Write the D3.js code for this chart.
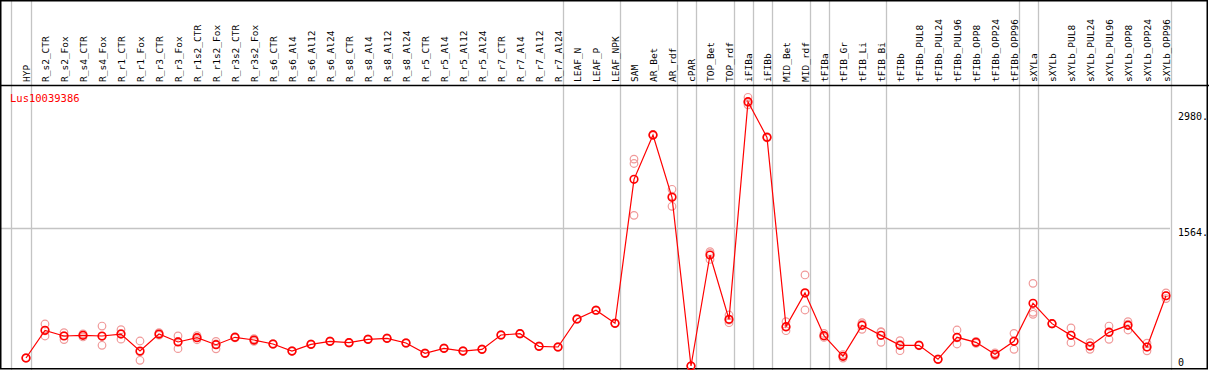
<!DOCTYPE html>
<html>
<head>
<meta charset="utf-8">
<script src="https://cdn.jsdelivr.net/npm/d3@7"></script>
<style>
  body { margin: 0; background: #fff; }
  svg { display: block; font-family: 'DejaVu Sans Mono', monospace; }
</style>
</head>
<body>
<script>
const geneName = 'Lus10039386';

const samples = [
  'HYP', 'R_s2_CTR', 'R_s2_Fox', 'R_s4_CTR', 'R_s4_Fox', 'R_r1_CTR', 'R_r1_Fox',
  'R_r3_CTR', 'R_r3_Fox', 'R_r1s2_CTR', 'R_r1s2_Fox', 'R_r3s2_CTR', 'R_r3s2_Fox',
  'R_s6_CTR', 'R_s6_Al4', 'R_s6_Al12', 'R_s6_Al24', 'R_s8_CTR', 'R_s8_Al4',
  'R_s8_Al12', 'R_s8_Al24', 'R_r5_CTR', 'R_r5_Al4', 'R_r5_Al12', 'R_r5_Al24',
  'R_r7_CTR', 'R_r7_Al4', 'R_r7_Al12', 'R_r7_Al24', 'LEAF_N', 'LEAF_P', 'LEAF_NPK',
  'SAM', 'AR_Bet', 'AR_rdf', 'cPAR', 'TOP_Bet', 'TOP_rdf', 'iFIBa', 'iFIBb',
  'MID_Bet', 'MID_rdf', 'tFIBa', 'tFIB_Gr', 'tFIB_Li', 'tFIB_Bi', 'tFIBb',
  'tFIBb_PUL8', 'tFIBb_PUL24', 'tFIBb_PUL96', 'tFIBb_OPP8', 'tFIBb_OPP24', 'tFIBb_OPP96',
  'sXYLa', 'sXYLb', 'sXYLb_PUL8', 'sXYLb_PUL24', 'sXYLb_PUL96', 'sXYLb_OPP8',
  'sXYLb_OPP24', 'sXYLb_OPP96',
];

const means = [
  91, 405, 341, 348, 341, 363, 170, 363, 273, 322, 242, 326, 295,
  250, 170, 246, 280, 265, 303, 314, 261, 144, 201, 170, 189,
  352, 367, 223, 216, 534, 633, 485,
  2120, 2624, 1916, 0, 1261, 530, 3002, 2597,
  447, 831, 344, 110, 462, 348, 235,
  235, 76, 326, 269, 133, 280,
  712, 481, 348, 227, 382, 462, 216, 798,
];

// three replicates per sample
const replicates = [
  [88, 91, 94], [477, 400, 341], [378, 345, 300], [365, 350, 330], [454, 335, 235],
  [412, 370, 305], [284, 160, 65], [378, 360, 350], [341, 280, 197], [345, 325, 298],
  [280, 250, 195], [332, 326, 320], [310, 295, 280],
  [254, 250, 246], [174, 170, 166], [250, 246, 242], [284, 280, 276], [269, 265, 261],
  [307, 303, 299], [318, 314, 310], [265, 261, 257], [148, 144, 140], [205, 201, 197],
  [174, 170, 166], [193, 189, 185], [356, 352, 348], [371, 367, 363], [227, 223, 219],
  [220, 216, 212], [538, 534, 530], [637, 633, 629], [489, 485, 481],
  [2350, 2300, 1711], [2630, 2624, 2618], [2007, 1930, 1814], [0, 0, 0],
  [1298, 1280, 1210], [579, 520, 492], [3052, 2990, 2966], [2605, 2597, 2590],
  [503, 440, 401], [1034, 825, 636], [370, 340, 325], [130, 110, 90],
  [492, 475, 417], [390, 385, 269], [288, 245, 174],
  [240, 235, 230], [80, 76, 72], [409, 320, 250], [280, 269, 258], [150, 130, 118],
  [371, 280, 190],
  [939, 610, 587], [485, 481, 477], [432, 350, 265], [265, 227, 190], [454, 390, 303],
  [503, 475, 409], [260, 216, 172], [830, 798, 766],
];

// vertical separators drawn after these samples
const groupEnds = [
  'HYP', 'R_r7_Al24', 'LEAF_NPK', 'AR_rdf', 'cPAR', 'TOP_rdf', 'iFIBa', 'iFIBb',
  'MID_rdf', 'tFIBa', 'tFIB_Bi', 'tFIBb_OPP96', 'sXYLa', 'sXYLb_OPP96',
];

const yTicks = [0, 1564, 2980];
const yTickLabels = ['0', '1564.', '2980.'];

const w = 1209;
const h = 370;
const headerH = 85;
const plotRight = 1170;

const svg = d3.select('body').append('svg').attr('width', w).attr('height', h);

const x = d3.scalePoint().domain(samples).range([26, 1166]);
const step = x.step();
const y = d3.scaleLinear().domain([0, 1564]).range([366, 228.3]);

// grid
const sepX = [x(samples[0]) - step * 0.8, ...groupEnds.map((s) => x(s) + 4.7)];
svg.append('g')
  .selectAll('line')
  .data(sepX)
  .join('line')
  .attr('x1', (d) => Math.round(d) + 0.5)
  .attr('x2', (d) => Math.round(d) + 0.5)
  .attr('y1', 0)
  .attr('y2', h)
  .attr('stroke', '#c4c4c4')
  .attr('stroke-width', 1.3);

svg.append('line')
  .attr('x1', 0)
  .attr('x2', plotRight)
  .attr('y1', Math.round(y(1564)) + 0.5)
  .attr('y2', Math.round(y(1564)) + 0.5)
  .attr('stroke', '#c4c4c4')
  .attr('stroke-width', 1.3);

// header line and frame
svg.append('line')
  .attr('x1', 0).attr('x2', w)
  .attr('y1', headerH + 0.5).attr('y2', headerH + 0.5)
  .attr('stroke', '#000').attr('stroke-width', 1.3);

svg.append('rect')
  .attr('x', 0.75).attr('y', 0.75)
  .attr('width', w - 2.5).attr('height', h - 2)
  .attr('fill', 'none')
  .attr('stroke', '#000')
  .attr('stroke-width', 1.5);

// sample labels
svg.append('g')
  .selectAll('text')
  .data(samples)
  .join('text')
  .attr('transform', (d) => `translate(${x(d) + 4},82) rotate(-90)`)
  .attr('font-size', '9.5px')
  .attr('fill', '#000')
  .text((d) => d);

// gene name
svg.append('text')
  .attr('x', 10)
  .attr('y', 102)
  .attr('font-size', '10.5px')
  .attr('fill', '#ff0000')
  .text(geneName);

// y labels
svg.append('g')
  .selectAll('text')
  .data(yTicks)
  .join('text')
  .attr('x', 1178)
  .attr('y', (d, i) => (i === 0 ? y(d) : i === 1 ? y(d) + 8 : y(d) + 16))
  .attr('font-size', '10px')
  .attr('fill', '#000')
  .text((d, i) => yTickLabels[i]);

// replicates
const reps = samples.flatMap((s, i) => replicates[i].map((v) => ({ s, v })));
svg.append('g')
  .selectAll('circle')
  .data(reps)
  .join('circle')
  .attr('cx', (d) => x(d.s))
  .attr('cy', (d) => y(d.v))
  .attr('r', 3.8)
  .attr('fill', 'none')
  .attr('stroke', '#f09a9a')
  .attr('stroke-width', 1.2);

// mean line
const line = d3.line()
  .x((d, i) => x(samples[i]))
  .y((d) => y(d));

svg.append('path')
  .datum(means)
  .attr('d', line)
  .attr('fill', 'none')
  .attr('stroke', '#ff0000')
  .attr('stroke-width', 1.2);

svg.append('g')
  .selectAll('circle')
  .data(means)
  .join('circle')
  .attr('cx', (d, i) => x(samples[i]))
  .attr('cy', (d) => y(d))
  .attr('r', 3.8)
  .attr('fill', 'none')
  .attr('stroke', '#ff0000')
  .attr('stroke-width', 1.6);
</script>
</body>
</html>
